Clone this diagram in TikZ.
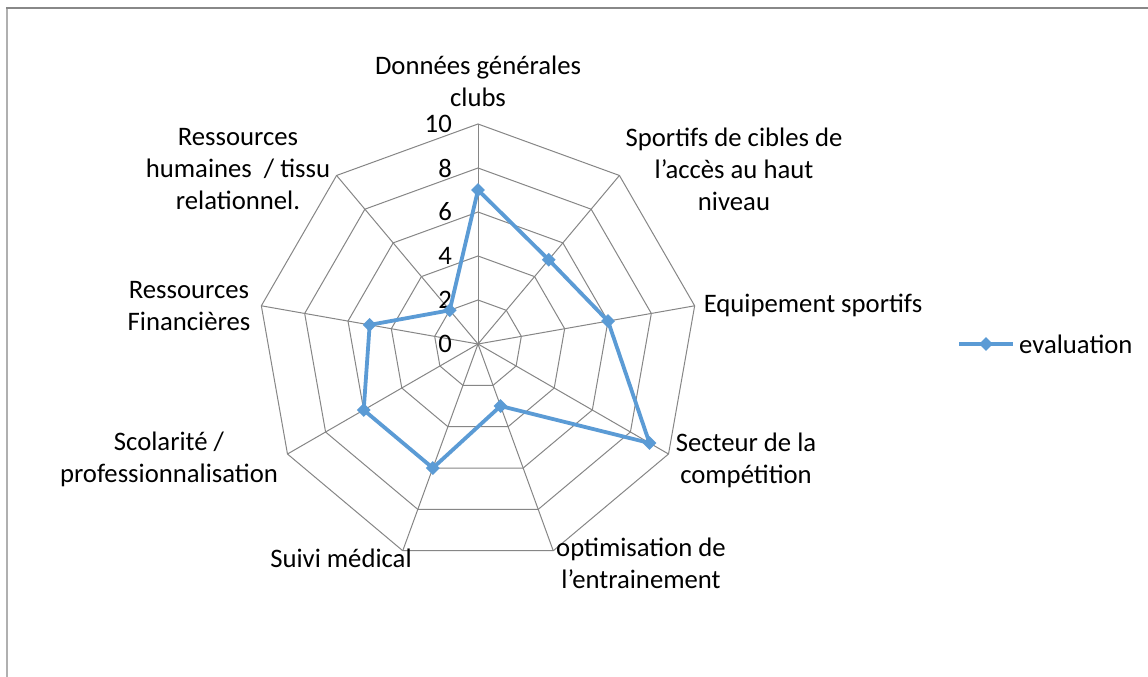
\documentclass[tikz,border=0pt]{standalone}
\usepackage{fontspec}
\setmainfont{Carlito}
\usetikzlibrary{shapes.geometric}
\definecolor{gridgray}{HTML}{868686}
\definecolor{serblue}{HTML}{5B9BD5}
\definecolor{frametop}{HTML}{888888}
\definecolor{frameleft}{HTML}{B0B0B0}
\begin{document}
\begin{tikzpicture}[x=1pt,y=-1pt,
  gridline/.style={draw=gridgray,line width=1pt},
  serline/.style={draw=serblue,line width=3.8pt,line join=round},
  mk/.style={diamond,fill=serblue,inner sep=0pt,minimum width=14pt,minimum height=14pt},
  lbl/.style={font=\fontsize{26.7}{32}\selectfont,align=center,inner sep=0pt},
  ticklbl/.style={font=\fontsize{26.7}{32}\selectfont,anchor=east,inner sep=0pt}]
\useasboundingbox (0,0) rectangle (1148,677);
\fill[white] (0,0) rectangle (1148,677);
% frame
\coordinate (fa) at (7,677);
\coordinate (fb) at (7,8);
\coordinate (fc) at (1148,8.5);
\coordinate (fd) at (6,8.5);
\draw[frameleft,line width=2pt] (fa) -- (fb);
\draw[frametop,line width=2pt] (fd) -- (fc);
% grid
\coordinate (C) at (478,344);
\foreach \r in {44,88,132,176,220}{
  \draw[gridline] ({478+\r*cos(90)},{344-\r*sin(90)})
    \foreach \a in {50,10,-30,-70,-110,-150,170,130}{ -- ({478+\r*cos(\a)},{344-\r*sin(\a)})} -- cycle;
}
\foreach \a [count=\i] in {90,50,10,-30,-70,-110,-150,170,130}{
  \coordinate (s\i) at ({478+220*cos(\a)},{344-220*sin(\a)});
  \draw[gridline] (C) -- (s\i);
}
% tick labels
\foreach \v in {0,2,4,6,8,10}{
  \node[ticklbl] (t\v) at (452,{344-22*\v}) {\v};
}
% data
\foreach \a/\v [count=\i] in {90/7,50/5,10/6,-30/9,-70/3,-110/6,-150/6,170/5,130/2}{
  \coordinate (d\i) at ({478+22*\v*cos(\a)},{344-22*\v*sin(\a)});
}
\draw[serline] (d1) -- (d2) -- (d3) -- (d4) -- (d5) -- (d6) -- (d7) -- (d8) -- (d9) -- cycle;
\foreach \i in {1,...,9}{ \node[mk] (m\i) at (d\i) {}; }
% category labels
\node[lbl] (L1) at (478,81) {Données générales\\clubs};
\node[lbl] (L2) at (734,169) {Sportifs de cibles de\\l’accès au haut\\niveau};
\node[lbl] (L3) at (813,305) {Equipement sportifs};
\node[lbl] (L4) at (746,460) {Secteur de la\\compétition};
\node[lbl] (L5) at (641,563) {optimisation de\\l’entrainement};
\node[lbl] (L6) at (341,558) {Suivi médical};
\node[lbl] (L7) at (169,459) {Scolarité /\\professionnalisation};
\node[lbl] (L8) at (189,306) {Ressources\\Financières};
\node[lbl] (L9) at (238,169) {Ressources\\humaines\ \ / tissu\\relationnel.};
% legend
\coordinate (la) at (959,344);
\coordinate (lb) at (1013,344);
\draw[serline] (la) -- (lb);
\node[mk] (lm) at (986,344) {};
\node[lbl,anchor=west] (lt) at (1019,344) {evaluation};
\end{tikzpicture}
\end{document}
